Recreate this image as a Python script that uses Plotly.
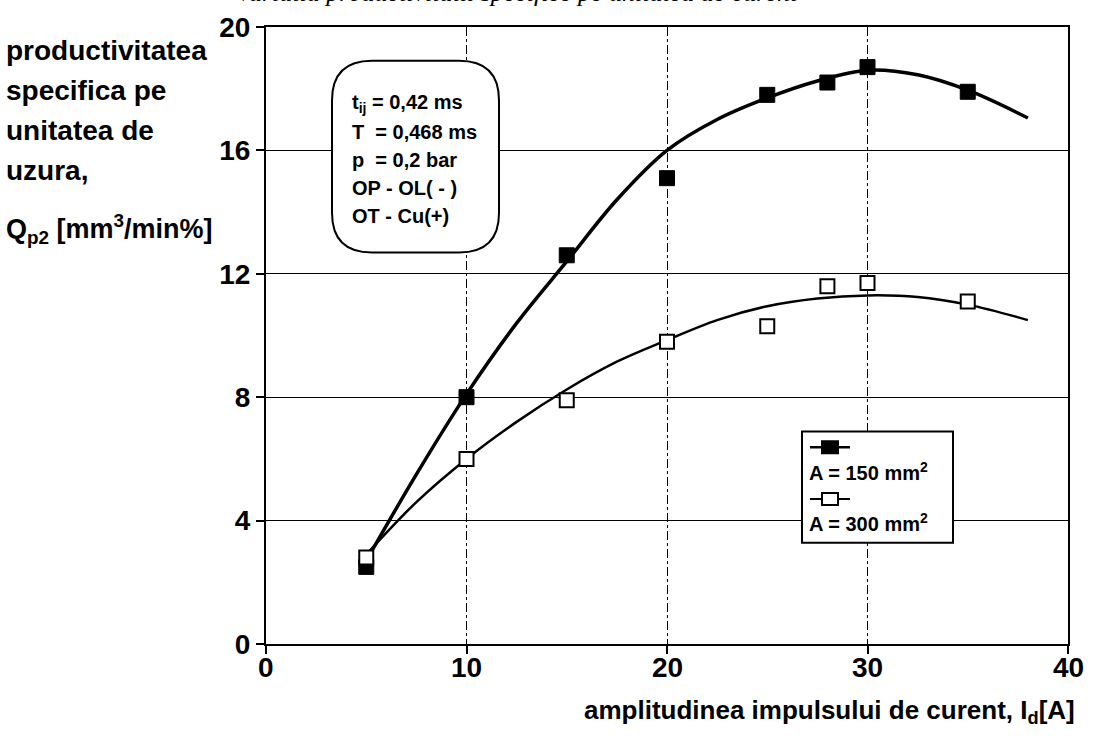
import plotly.graph_objects as go

# measured points
current = [5, 10, 15, 20, 25, 28, 30, 35]
q_150 = [2.5, 8.0, 12.6, 15.1, 17.8, 18.2, 18.7, 17.9]
q_300 = [2.8, 6.0, 7.9, 9.8, 10.3, 11.6, 11.7, 11.1]

# fitted trend curves
curve_x = [5, 7.5, 10, 12.5, 15, 17.5, 20, 22.5, 25, 27.5, 30, 32.5, 35, 38]
curve_150 = [2.7, 5.5, 8.1, 10.4, 12.4, 14.4, 16.0, 17.0, 17.7, 18.25, 18.6, 18.45, 17.95, 17.05]
curve_300 = [2.9, 4.6, 6.0, 7.2, 8.25, 9.15, 9.85, 10.5, 10.95, 11.2, 11.3, 11.25, 11.0, 10.5]

x_ticks = [0, 10, 20, 30, 40]
x_tick_labels = ["0", "10", "20", "30", "40"]
y_ticks = [0, 4, 8, 12, 16, 20]

W, H = 1093, 736
L, R, T, B = 266, 1068, 23, 644

def px(xp):
    return (xp - L) / (R - L)

def py(yp):
    return (B - yp) / (B - T)

FONT = "Liberation Sans"

fig = go.Figure()

fig.add_trace(go.Scatter(x=curve_x, y=curve_150, mode="lines", line=dict(color="black", width=3.5, shape="spline"),
                         showlegend=False, hoverinfo="skip"))
fig.add_trace(go.Scatter(x=curve_x, y=curve_300, mode="lines", line=dict(color="black", width=2.5, shape="spline"),
                         showlegend=False, hoverinfo="skip"))
fig.add_trace(go.Scatter(x=current, y=q_150, mode="markers", name="A = 150 mm²",
                         marker=dict(symbol="square", size=15, color="black", line=dict(color="black", width=1)),
                         showlegend=False))
fig.add_trace(go.Scatter(x=current, y=q_300, mode="markers", name="A = 300 mm²",
                         marker=dict(symbol="square", size=14, color="white", line=dict(color="black", width=2)),
                         showlegend=False))

shapes = []
annotations = []

# rounded box with process parameters
bx0, bx1, by0, by1, r = 332, 499, 57, 250, 40
x0, x1, y0, y1 = px(bx0), px(bx1), py(by0), py(by1)
rx = r / (R - L)
ry = r / (B - T)
path = (f"M {x0 + rx} {y0} L {x1 - rx} {y0} Q {x1} {y0} {x1} {y0 - ry} "
        f"L {x1} {y1 + ry} Q {x1} {y1} {x1 - rx} {y1} L {x0 + rx} {y1} "
        f"Q {x0} {y1} {x0} {y1 + ry} L {x0} {y0 - ry} Q {x0} {y0} {x0 + rx} {y0} Z")
shapes.append(dict(type="path", path=path, xref="paper", yref="paper", fillcolor="white",
                   line=dict(color="black", width=2), layer="above"))

params = ["t<sub>ij</sub> = 0,42 ms", "T  = 0,468 ms", "p  = 0,2 bar", "OP - OL( - )", "OT - Cu(+)"]
for i, txt in enumerate(params):
    annotations.append(dict(x=px(350), y=py(100 + i * 28.3), xref="paper", yref="paper", text=txt,
                            showarrow=False, xanchor="left", yanchor="middle",
                            font=dict(family=FONT, size=20, color="black", weight="bold")))

# legend box
lx0, lx1, ly0, ly1 = 802, 953, 430, 542
shapes.append(dict(type="rect", xref="paper", yref="paper", x0=px(lx0), x1=px(lx1), y0=py(ly0), y1=py(ly1),
                   fillcolor="white", line=dict(color="black", width=2), layer="above"))
for row_y, filled, label in [(446, True, "A = 150 mm<sup>2</sup>"), (498, False, "A = 300 mm<sup>2</sup>")]:
    shapes.append(dict(type="line", xref="paper", yref="paper", x0=px(810), x1=px(850), y0=py(row_y), y1=py(row_y),
                       line=dict(color="black", width=2.5 if filled else 2), layer="above"))
    shapes.append(dict(type="rect", xref="paper", yref="paper", x0=px(822), x1=px(838),
                       y0=py(row_y - 6), y1=py(row_y + 6),
                       fillcolor="black" if filled else "white", line=dict(color="black", width=2), layer="above"))
    annotations.append(dict(x=px(807), y=py(row_y + 24), xref="paper", yref="paper", text=label,
                            showarrow=False, xanchor="left", yanchor="middle",
                            font=dict(family=FONT, size=20, color="black", weight="bold")))

# x tick labels, set a little closer to the axis
for v, lab in zip(x_ticks, x_tick_labels):
    annotations.append(dict(x=v, y=py(668), xref="x", yref="paper", text=lab,
                            showarrow=False, xanchor="center", yanchor="middle",
                            font=dict(family=FONT, size=28, color="black", weight="bold")))

# y-axis caption
ylines = ["productivitatea", "specifica pe", "unitatea de", "uzura,"]
for i, txt in enumerate(ylines):
    annotations.append(dict(x=px(4), y=py(47 + i * 40), xref="paper", yref="paper", text=txt,
                            showarrow=False, xanchor="left", yanchor="middle",
                            font=dict(family=FONT, size=28, color="black", weight="bold")))
annotations.append(dict(x=px(4), y=py(226), xref="paper", yref="paper",
                        text="Q<sub>p2</sub> [mm<sup>3</sup>/min%]",
                        showarrow=False, xanchor="left", yanchor="middle",
                        font=dict(family=FONT, size=27, color="black", weight="bold")))

# x-axis caption
annotations.append(dict(x=px(1077), y=py(712), xref="paper", yref="paper",
                        text="amplitudinea impulsului de curent, I<sub>d</sub>[A]",
                        showarrow=False, xanchor="right", yanchor="middle",
                        font=dict(family=FONT, size=26, color="black", weight="bold")))

# figure caption running off the top edge
annotations.append(dict(x=px(800), y=py(5), xref="paper", yref="paper",
                        text="Variatia productivitatii specifice pe unitatea de curent",
                        showarrow=False, xanchor="right", yanchor="bottom",
                        font=dict(family="Liberation Serif", size=26, color="black", style="italic")))

axis_common = dict(showline=True, linecolor="black", linewidth=2, mirror=True,
                   ticks="outside", ticklen=8, tickwidth=2, tickcolor="black",
                   tickfont=dict(family=FONT, size=28, color="black", weight="bold"),
                   zeroline=False)

fig.update_layout(
    width=W, height=H,
    margin=dict(l=L, r=W - R, t=T, b=H - B),
    paper_bgcolor="white", plot_bgcolor="white",
    xaxis=dict(range=[0, 40], tickvals=x_ticks, showticklabels=False, showgrid=True, gridcolor="black",
               gridwidth=1, griddash="dashdot", **axis_common),
    yaxis=dict(range=[0, 20], tickvals=y_ticks, showgrid=True, gridcolor="black", gridwidth=1,
               **axis_common),
    shapes=shapes,
    annotations=annotations,
    showlegend=False,
)

fig.write_html("out.html")
